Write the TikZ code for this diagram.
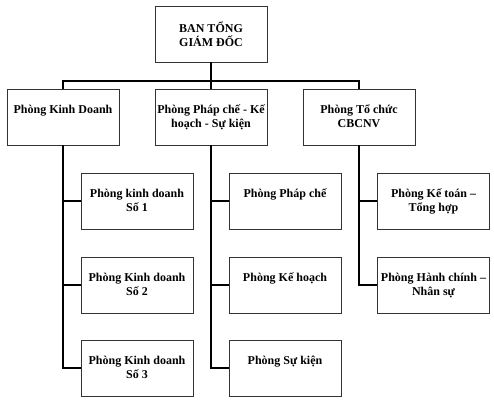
\documentclass[tikz,border=0pt]{standalone}
\usepackage{fontspec}
\setmainfont{Liberation Serif}
\tikzset{
  box/.style={draw=black!80, line width=0.6pt, minimum width=112pt, minimum height=56pt, inner sep=0pt},
  txt/.style={anchor=base, inner sep=0pt, font=\bfseries\fontsize{12}{14}\selectfont},
  conn/.style={line width=1.6pt}
}
\newcommand{\unit}[4]{% name, x, y, text
  \node[box] (#1) at (#2,#3) {};
  \node[txt] (#1-t) at ([yshift=-25pt]#1.north) {\begin{tabular}[t]{@{}c@{}}#4\end{tabular}};
}

\begin{document}
\begin{tikzpicture}[x=1pt,y=-1pt]
  \useasboundingbox (0,0) rectangle (494,400);

  % top
  \node[box, align=center, font=\bfseries\fontsize{12}{14}\selectfont] (ban) at (211,34) {BAN TỔNG\\GIÁM ĐỐC};

  % departments
  \unit{kd}{63}{117}{Phòng Kinh Doanh}
  \unit{phap}{211}{117}{Phòng Pháp chế - Kế\\hoạch - Sự kiện}
  \unit{tc}{359}{117}{Phòng Tổ chức\\CBCNV}

  % sub units
  \unit{kd1}{137}{201}{Phòng kinh doanh\\Số 1}
  \unit{kd2}{137}{285}{Phòng Kinh doanh\\Số 2}
  \unit{kd3}{137}{368}{Phòng Kinh doanh\\Số 3}
  \unit{ph1}{285}{201}{Phòng Pháp chế}
  \unit{ph2}{285}{285}{Phòng Kế hoạch}
  \unit{ph3}{285}{368}{Phòng Sự kiện}
  \unit{tc1}{433.5}{201}{Phòng Kế toán –\\Tổng hợp}
  \unit{tc2}{433.5}{285}{Phòng Hành chính –\\Nhân sự}

  % connectors
  \coordinate (bus) at (211,81);
  \draw[conn] (ban) -- (phap);
  \draw[conn] (kd.north) |- (bus) -| (tc.north);

  \draw[conn] (kd.south) |- (kd3.west);
  \draw[conn] (phap.south) |- (ph3.west);
  \draw[conn] (tc.south) |- (tc2.west);
  \foreach \p/\c in {kd/kd1, kd/kd2, phap/ph1, phap/ph2, tc/tc1}
    \draw[conn] (\p.south |- \c.west) -- (\c.west);
\end{tikzpicture}
\end{document}
